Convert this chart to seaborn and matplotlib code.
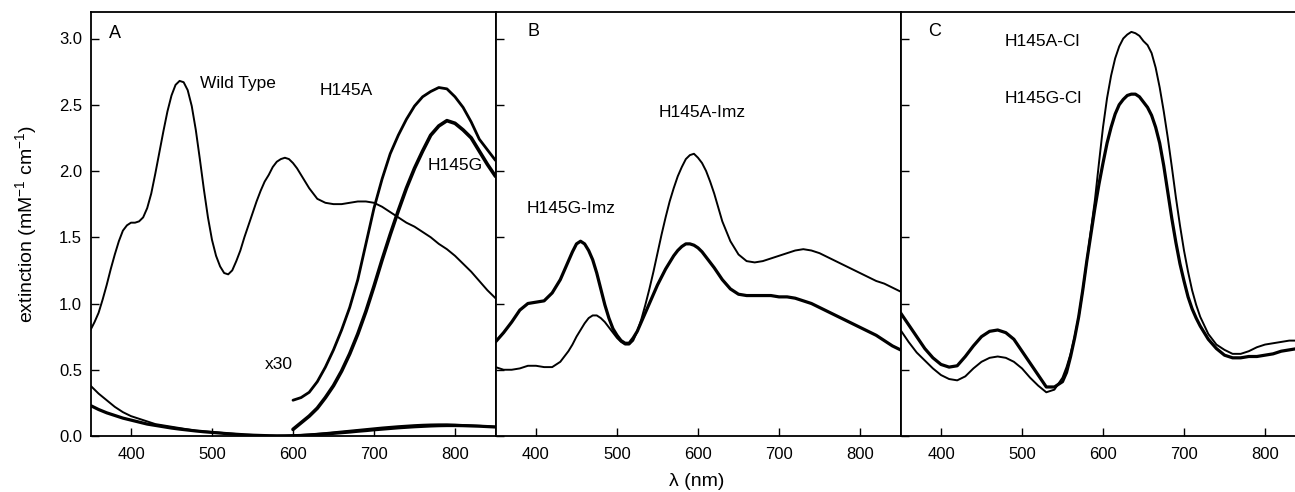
import numpy as np
import pandas as pd
import matplotlib
matplotlib.use("Agg")
import matplotlib.pyplot as plt
import seaborn as sns

# ---------------- data ----------------
# wavelength grids (nm)
wl = [350, 360, 370, 380, 390, 400, 410, 420, 430, 440, 450, 460, 470, 480, 490,
      500, 510, 520, 530, 540, 550, 560, 570, 580, 590, 600, 610, 620, 630, 640,
      650, 660, 670, 680, 690, 700, 710, 720, 730, 740, 750, 760, 770, 780, 790,
      800, 810, 820, 830, 840, 850]
wl_wt = [350, 355, 360, 365, 370, 375, 380, 385, 390, 395, 400, 405, 410, 415, 420,
         425, 430, 435, 440, 445, 450, 455, 460, 465, 470, 475, 480, 485, 490, 495,
         500, 505, 510, 515, 520, 525, 530, 535, 540, 545, 550, 555, 560, 565, 570,
         575, 580, 585, 590, 595, 600, 605, 610, 615, 620, 630, 640, 650, 660, 670,
         680, 690, 700, 710, 720, 730, 740, 750, 760, 770, 780, 790, 800, 810, 820,
         830, 840, 850]
wl_x30 = [600, 610, 620, 630, 640, 650, 660, 670, 680, 690, 700, 710, 720, 730,
          740, 750, 760, 770, 780, 790, 800, 810, 820, 830, 840, 850]
wl_b = [350, 360, 370, 380, 390, 400, 410, 420, 430,
        440, 445, 450, 455, 460, 465, 470, 475, 480, 485, 490, 495, 500, 505, 510,
        515, 520, 525, 530, 535, 540, 545, 550, 555, 560, 565, 570, 575, 580, 585,
        590, 595, 600, 605, 610, 615, 620,
        630, 640, 650, 660, 670, 680, 690, 700, 710, 720, 730, 740, 750, 760, 770,
        780, 790, 800, 810, 820, 830, 840, 850]
wl_c = [350, 360, 370, 380, 390, 400, 410, 420, 430, 440, 450, 460, 470, 480, 490,
        500, 510, 520, 530, 540, 550,
        555, 560, 565, 570, 575, 580, 585, 590, 595, 600, 605, 610, 615, 620, 625,
        630, 635, 640, 645, 650, 655, 660, 665, 670, 675, 680, 685, 690, 695, 700,
        705, 710, 715, 720,
        730, 740, 750, 760, 770, 780, 790, 800, 810, 820, 830, 840, 850]

# Panel A
wild_type = [0.80, 0.86, 0.93, 1.03, 1.14, 1.26, 1.37, 1.47, 1.55, 1.59, 1.61, 1.61,
             1.62, 1.65, 1.72, 1.83, 1.98, 2.14, 2.30, 2.45, 2.57, 2.65, 2.68, 2.67,
             2.61, 2.49, 2.31, 2.09, 1.86, 1.65, 1.48, 1.36, 1.28, 1.23, 1.22, 1.25,
             1.32, 1.40, 1.50, 1.59, 1.68, 1.77, 1.85, 1.92, 1.97, 2.03, 2.07, 2.09,
             2.10, 2.09, 2.06, 2.02, 1.97, 1.92, 1.87, 1.79, 1.76, 1.75, 1.75, 1.76,
             1.77, 1.77, 1.76, 1.73, 1.69, 1.65, 1.61, 1.58, 1.54, 1.50, 1.45, 1.41,
             1.36, 1.30, 1.24, 1.17, 1.10, 1.04]
h145a = [0.38, 0.32, 0.27, 0.22, 0.18, 0.15, 0.13, 0.11, 0.09, 0.08, 0.07, 0.06,
         0.05, 0.04, 0.035, 0.03, 0.025, 0.02, 0.015, 0.01, 0.008, 0.005, 0.003,
         0.002, 0.003, 0.005, 0.008, 0.012, 0.017, 0.022, 0.028, 0.034, 0.04, 0.046,
         0.052, 0.058, 0.064, 0.069, 0.074, 0.078, 0.082, 0.085, 0.087, 0.088,
         0.088, 0.086, 0.083, 0.08, 0.077, 0.074, 0.07]
h145g = [0.23, 0.20, 0.175, 0.155, 0.135, 0.12, 0.105, 0.09, 0.08, 0.07, 0.06, 0.052,
         0.045, 0.038, 0.032, 0.027, 0.022, 0.017, 0.013, 0.009, 0.006, 0.004, 0.002,
         0.001, 0.001, 0.002, 0.004, 0.007, 0.011, 0.015, 0.02, 0.025, 0.03, 0.036,
         0.041, 0.047, 0.052, 0.057, 0.062, 0.066, 0.07, 0.073, 0.076, 0.078, 0.079,
         0.079, 0.078, 0.076, 0.074, 0.071, 0.068]
h145a_x30 = [0.27, 0.29, 0.33, 0.41, 0.52, 0.65, 0.80, 0.97, 1.18, 1.45, 1.72, 1.94,
             2.13, 2.27, 2.39, 2.49, 2.56, 2.60, 2.63, 2.62, 2.56, 2.48, 2.37, 2.24,
             2.16, 2.08]
h145g_x30 = [0.05, 0.10, 0.15, 0.21, 0.29, 0.38, 0.49, 0.62, 0.77, 0.94, 1.13, 1.33,
             1.52, 1.70, 1.87, 2.02, 2.15, 2.27, 2.34, 2.38, 2.36, 2.31, 2.25, 2.15,
             2.05, 1.96]

# Panel B
h145a_imz = [0.52, 0.50, 0.50, 0.51, 0.53, 0.53, 0.52, 0.52, 0.56,
             0.64, 0.69, 0.75, 0.80, 0.85, 0.89, 0.91, 0.91, 0.89, 0.86, 0.82, 0.78,
             0.74, 0.71, 0.69, 0.69, 0.72, 0.79, 0.88, 0.99, 1.11, 1.24, 1.38, 1.52,
             1.65, 1.77, 1.87, 1.96, 2.03, 2.09, 2.12, 2.13, 2.10, 2.06, 2.00, 1.92,
             1.83,
             1.62, 1.47, 1.37, 1.32, 1.31, 1.32, 1.34, 1.36, 1.38, 1.40, 1.41, 1.40,
             1.38, 1.35, 1.32, 1.29, 1.26, 1.23, 1.20, 1.17, 1.15, 1.12, 1.09]
h145g_imz = [0.71, 0.78, 0.86, 0.95, 1.00, 1.01, 1.02, 1.08, 1.18,
             1.32, 1.39, 1.45, 1.47, 1.45, 1.40, 1.33, 1.23, 1.11, 0.99, 0.89, 0.81,
             0.76, 0.72, 0.70, 0.70, 0.74, 0.79, 0.86, 0.93, 1.00, 1.07, 1.14, 1.20,
             1.26, 1.31, 1.36, 1.40, 1.43, 1.45, 1.45, 1.44, 1.42, 1.39, 1.35, 1.31,
             1.27,
             1.18, 1.11, 1.07, 1.06, 1.06, 1.06, 1.06, 1.05, 1.05, 1.04, 1.02, 1.00,
             0.97, 0.94, 0.91, 0.88, 0.85, 0.82, 0.79, 0.76, 0.72, 0.68, 0.65]

# Panel C
h145a_cl = [0.80, 0.71, 0.63, 0.57, 0.51, 0.46, 0.43, 0.42, 0.45, 0.51, 0.56, 0.59,
            0.60, 0.59, 0.56, 0.51, 0.44, 0.38, 0.33, 0.35, 0.44,
            0.52, 0.62, 0.75, 0.90, 1.10, 1.32, 1.55, 1.78, 2.06, 2.33, 2.55, 2.72,
            2.85, 2.94, 3.00, 3.03, 3.05, 3.04, 3.02, 2.98, 2.95, 2.89, 2.78, 2.63,
            2.45, 2.25, 2.03, 1.80, 1.59, 1.40, 1.24, 1.10, 0.99, 0.90,
            0.77, 0.69, 0.65, 0.62, 0.62, 0.64, 0.67, 0.69, 0.70, 0.71, 0.72, 0.72,
            0.73]
h145g_cl = [0.93, 0.84, 0.75, 0.66, 0.59, 0.54, 0.52, 0.53, 0.60, 0.68, 0.75, 0.79,
            0.80, 0.78, 0.73, 0.64, 0.55, 0.46, 0.37, 0.37, 0.41,
            0.48, 0.60, 0.74, 0.90, 1.10, 1.32, 1.52, 1.72, 1.90, 2.06, 2.21, 2.33,
            2.43, 2.50, 2.54, 2.57, 2.58, 2.58, 2.56, 2.52, 2.48, 2.42, 2.33, 2.21,
            2.04, 1.84, 1.64, 1.46, 1.30, 1.17, 1.05, 0.96, 0.89, 0.83,
            0.73, 0.66, 0.61, 0.59, 0.59, 0.60, 0.60, 0.61, 0.62, 0.64, 0.65, 0.66,
            0.67]

x_ticks = [400, 500, 600, 700, 800]
y_ticks = [0.0, 0.5, 1.0, 1.5, 2.0, 2.5, 3.0]
y_tick_labels = ["0.0", "0.5", "1.0", "1.5", "2.0", "2.5", "3.0"]

# ---------------- style ----------------
sns.set_style("ticks")
plt.rcParams["font.family"] = ["Liberation Sans", "DejaVu Sans"]
plt.rcParams["mathtext.default"] = "regular"
for k in ["text.color", "axes.labelcolor", "xtick.color", "ytick.color", "axes.edgecolor"]:
    plt.rcParams[k] = "black"

W, H = 1295, 492
fig = plt.figure(figsize=(W / 100, H / 100), dpi=100)

bottom_px, top_px = 436, 12
panel_lefts = [90.5, 495.5, 900.5]
panel_w = 405

axes = []
for lp in panel_lefts:
    ax = fig.add_axes([lp / W, (H - bottom_px) / H, panel_w / W, (bottom_px - top_px) / H])
    axes.append(ax)

THIN = 1.4
THICK = 2.3

def draw(ax, x, y, lw):
    sns.lineplot(x=x, y=y, ax=ax, color="black", linewidth=lw, estimator=None,
                 sort=False, legend=False)

# Panel A
draw(axes[0], wl_wt, wild_type, THIN)
draw(axes[0], wl, h145a, THIN)
draw(axes[0], wl, h145g, THICK)
draw(axes[0], wl_x30, h145a_x30, THICK - 0.3)
draw(axes[0], wl_x30, h145g_x30, THICK + 0.3)

# Panel B
draw(axes[1], wl_b, h145a_imz, THIN)
draw(axes[1], wl_b, h145g_imz, THICK)

# Panel C
draw(axes[2], wl_c, h145a_cl, THIN)
draw(axes[2], wl_c, h145g_cl, THICK)

for i, ax in enumerate(axes):
    ax.set_xlim(350, 850)
    ax.set_ylim(0, 3.2)
    ax.set_xticks(x_ticks)
    ax.set_xticklabels([str(t) for t in x_ticks], fontsize=12)
    ax.set_yticks(y_ticks)
    if i == 0:
        ax.set_yticklabels(y_tick_labels, fontsize=12)
    else:
        ax.set_yticklabels([])
    ax.tick_params(direction="in", length=6, width=1.0, color="black")
    ax.tick_params(axis="x", pad=8)
    ax.tick_params(axis="y", pad=6)
    for s in ax.spines.values():
        s.set_visible(True)
        s.set_linewidth(1.3)
        s.set_color("black")
    ax.set_xlabel("")
    ax.set_ylabel("")

axes[0].set_ylabel("extinction (mM$^{-1}$ cm$^{-1}$)", fontsize=14)
axes[0].yaxis.set_label_coords(-0.128, 0.5)

fs = 12.5
va = "center"
axes[0].text(373, 3.04, "A", fontsize=13, va=va)
axes[0].text(485, 2.66, "Wild Type", fontsize=fs, va=va)
axes[0].text(633, 2.61, "H145A", fontsize=fs, va=va)
axes[0].text(766, 2.04, "H145G", fontsize=fs, va=va)
axes[0].text(565, 0.54, "x30", fontsize=fs, va=va)

axes[1].text(390, 3.05, "B", fontsize=13, va=va)
axes[1].text(552, 2.44, "H145A-Imz", fontsize=fs, va=va)
axes[1].text(389, 1.72, "H145G-Imz", fontsize=fs, va=va)

axes[2].text(384, 3.05, "C", fontsize=13, va=va)
axes[2].text(479, 2.98, "H145A-Cl", fontsize=fs, va=va)
axes[2].text(479, 2.55, "H145G-Cl", fontsize=fs, va=va)

fig.text(697 / W, 1 - 481 / H, "λ (nm)", fontsize=14, ha="center", va="center")

fig.savefig("out.png", dpi=100)
